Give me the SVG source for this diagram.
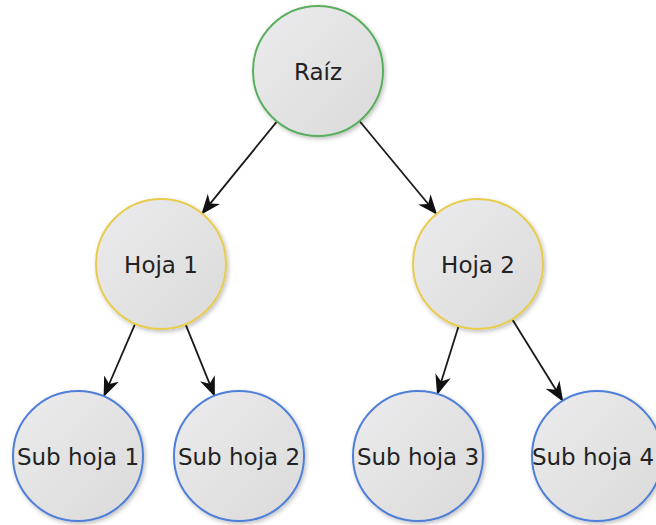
<svg xmlns="http://www.w3.org/2000/svg" width="656" height="525" viewBox="0 0 656 525">
<style>
.node circle{fill:url(#g);stroke-width:2;filter:url(#sh)}
.root circle{stroke:#5aae5e}
.leaf circle{stroke:#e8cc4e}
.sub circle{stroke:#4f7fd8}
.node text{font-family:"DejaVu Sans",Verdana,sans-serif;font-size:23px;fill:#222;text-anchor:middle}
.edges line{stroke:#1a1a1a;stroke-width:1.8;marker-end:url(#ah)}
</style>
<defs>
<linearGradient id="g" x1="0" y1="0" x2="1" y2="1">
<stop offset="0" stop-color="#ececee"/>
<stop offset="1" stop-color="#dadada"/>
</linearGradient>
<filter id="sh" x="-20%" y="-20%" width="140%" height="140%">
<feDropShadow dx="1.5" dy="2" stdDeviation="2" flood-color="#000" flood-opacity="0.25"/>
</filter>
<marker id="ah" viewBox="0 0 20 16" refX="19" refY="8" markerWidth="20" markerHeight="16" markerUnits="userSpaceOnUse" orient="auto">
<path d="M0,0 L20,8 L0,16 L6,8 z" fill="#111"/>
</marker>
</defs>
<g class="edges">
<line x1="277" y1="121.4" x2="202" y2="213.6"/>
<line x1="359.5" y1="121" x2="436.5" y2="214"/>
<line x1="135.2" y1="323.7" x2="104" y2="396"/>
<line x1="185.5" y1="324.2" x2="214.5" y2="395.8"/>
<line x1="458.6" y1="326" x2="437.4" y2="394"/>
<line x1="512.2" y1="319.3" x2="562.7" y2="400.8"/>
</g>
<g id="raiz" class="node root"><circle cx="318" cy="71" r="65"/><text x="318" y="80">Raíz</text></g>
<g id="hoja1" class="node leaf"><circle cx="161" cy="264" r="65"/><text x="161" y="273">Hoja 1</text></g>
<g id="hoja2" class="node leaf"><circle cx="478" cy="264" r="65"/><text x="478" y="273">Hoja 2</text></g>
<g id="sub1" class="node sub"><circle cx="78" cy="456" r="65"/><text x="78" y="465">Sub hoja 1</text></g>
<g id="sub2" class="node sub"><circle cx="239" cy="456" r="65"/><text x="239" y="465">Sub hoja 2</text></g>
<g id="sub3" class="node sub"><circle cx="418" cy="456" r="65"/><text x="418" y="465">Sub hoja 3</text></g>
<g id="sub4" class="node sub"><circle cx="597" cy="456" r="65"/><text x="593" y="465">Sub hoja 4</text></g>
</svg>
